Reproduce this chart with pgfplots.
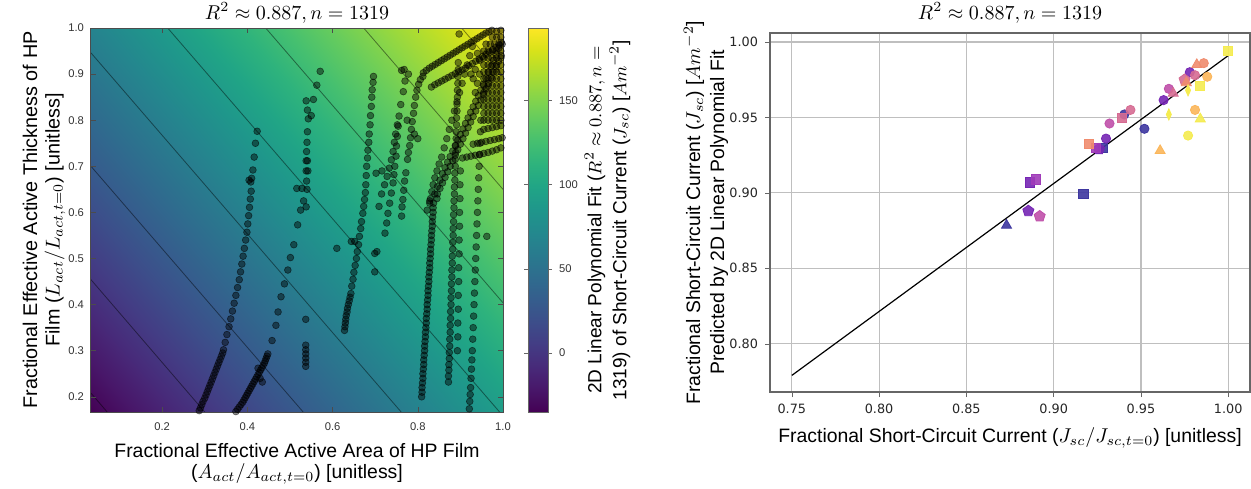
\documentclass[border=0pt]{standalone}
\usepackage{pgfplots}
\pgfplotsset{compat=1.18}
\usepackage{fontspec}
\setmainfont{Liberation Sans}
\newfontfamily\dejavu{DejaVu Sans}
\definecolor{cblue}{RGB}{62,55,160}
\definecolor{cpurple}{RGB}{118,38,180}
\definecolor{cviolet}{RGB}{160,60,185}
\definecolor{cmag}{RGB}{192,80,170}
\definecolor{cpink}{RGB}{214,108,147}
\definecolor{csalmon}{RGB}{240,140,110}
\definecolor{corange}{RGB}{251,182,90}
\definecolor{cyellow}{RGB}{245,236,80}
\pgfplotsset{
  dots/.style={only marks, mark=*, mark size=1.7pt, mark options={draw=black, fill=black, fill opacity=0.45, draw opacity=0.55, line width=0.3pt}},
  sc/.style 2 args={only marks, mark=#1, mark size=2.3pt, mark options={fill=#2, draw=#2, fill opacity=0.9}},
  st/.style 2 args={only marks, mark=#1, mark size=2.9pt, mark options={fill=#2, draw=#2, fill opacity=0.9}},
}
\begin{document}
\begin{tikzpicture}[x=1pt,y=1pt]
\useasboundingbox (0,0) rectangle (625.5,244);
% ---------------- LEFT PANEL ----------------
\begin{axis}[
  at={(45.5pt,38pt)}, anchor=south west, scale only axis,
  width=206pt, height=192pt,
  xmin=0.033, xmax=1.0, ymin=0.167, ymax=1.0,
  axis on top, tick align=inside, major tick length=2.5pt,
  xtick={0.2,0.4,0.6,0.8,1.0}, ytick={0.2,0.3,0.4,0.5,0.6,0.7,0.8,0.9,1.0},
  axis line style={black!70, line width=0.5pt}, tick style={black!70},
  xticklabel style={font=\fontsize{5.6}{6}\selectfont, text=black!80, yshift=-2pt},
  yticklabel style={font=\fontsize{5.6}{6}\selectfont, text=black!80},
  /pgf/number format/.cd, fixed, fixed zerofill, precision=1, assume math mode=true,
  /pgfplots/.cd,
  colormap name=viridis, point meta min=-35, point meta max=193,
  colorbar,
  colorbar style={at={(1.0607,1)}, anchor=north west, xshift=0pt,
    width=10pt, height=192pt, scale only axis,
    ytick={0,50,100,150}, tick align=outside, major tick length=2pt,
    axis line style={black!60}, tick style={black!60},
    yticklabel style={font=\fontsize{5.6}{6}\selectfont, text=black!80, /pgf/number format/assume math mode=true, /pgf/number format/precision=0}},
]
\addplot[surf, shader=interp, mesh/rows=2, point meta=explicit] table[meta=f] {
x y f
0.033 0.167 -35
1.0 0.167 91.3
0.033 1.0 66.7
1.0 1.0 193
};
% contour lines
\addplot[black, opacity=0.45, line width=0.4pt] coordinates {(0.033,0.208) (0.071,0.167)};
\addplot[black, opacity=0.45, line width=0.4pt] coordinates {(0.033,0.454) (0.300,0.167)};
\addplot[black, opacity=0.45, line width=0.4pt] coordinates {(0.033,0.700) (0.531,0.167)};
\addplot[black, opacity=0.45, line width=0.4pt] coordinates {(0.033,0.946) (0.761,0.167)};
\addplot[black, opacity=0.45, line width=0.4pt] coordinates {(0.213,1.0) (0.992,0.167)};
\addplot[black, opacity=0.45, line width=0.4pt] coordinates {(0.443,1.0) (1.0,0.404)};
\addplot[black, opacity=0.45, line width=0.4pt] coordinates {(0.673,1.0) (1.0,0.650)};
\addplot[black, opacity=0.45, line width=0.4pt] coordinates {(0.903,1.0) (1.0,0.896)};
% trace A
\addplot[dots] coordinates {
(0.287,0.170) (0.290,0.176) (0.293,0.183) (0.296,0.190) (0.300,0.197) (0.303,0.204) (0.306,0.211) (0.309,0.218) (0.312,0.225) (0.315,0.232) (0.318,0.239) (0.321,0.246) (0.324,0.253) (0.327,0.260) (0.330,0.267) (0.333,0.274) (0.336,0.281) (0.339,0.288) (0.342,0.295) (0.344,0.302)
(0.348,0.318) (0.352,0.335) (0.357,0.352) (0.361,0.369) (0.365,0.386) (0.369,0.403) (0.373,0.420) (0.377,0.437) (0.381,0.454) (0.384,0.471) (0.387,0.488) (0.390,0.505) (0.393,0.522) (0.396,0.540) (0.399,0.557) (0.401,0.575) (0.403,0.593) (0.405,0.611) (0.407,0.629) (0.409,0.646) (0.404,0.670) (0.408,0.666) (0.410,0.674) (0.413,0.692) (0.416,0.720) (0.419,0.750) (0.423,0.776)
(0.030,0.935)
};
% trace B
\addplot[dots] coordinates {
(0.373,0.168) (0.377,0.173) (0.381,0.178) (0.385,0.183) (0.389,0.188) (0.392,0.193) (0.395,0.198) (0.398,0.203) (0.401,0.208) (0.404,0.213) (0.407,0.218) (0.410,0.223) (0.413,0.228) (0.416,0.233) (0.419,0.238) (0.422,0.243) (0.425,0.248) (0.428,0.253) (0.431,0.258) (0.434,0.263) (0.437,0.268) (0.440,0.273) (0.442,0.278) (0.444,0.283) (0.446,0.288) (0.448,0.293) (0.430,0.240) (0.435,0.232) (0.425,0.262)
(0.458,0.322) (0.467,0.355) (0.472,0.384) (0.479,0.417) (0.487,0.445) (0.495,0.475) (0.501,0.502) (0.509,0.530) (0.518,0.573) (0.525,0.605) (0.532,0.625)
};
% column C
\addplot[dots] coordinates {
(0.538,0.842) (0.541,0.822) (0.543,0.803) (0.541,0.775) (0.540,0.752) (0.539,0.732) (0.538,0.712) (0.541,0.712) (0.538,0.690) (0.542,0.690) (0.539,0.668) (0.540,0.650) (0.528,0.652) (0.516,0.652) (0.538,0.612) (0.555,0.845) (0.563,0.876) (0.571,0.906) (0.550,0.810)
(0.537,0.312) (0.537,0.302) (0.537,0.293) (0.537,0.284) (0.537,0.275) (0.537,0.266) (0.537,0.368)
};
% trace D
\addplot[dots] coordinates {
(0.628,0.344) (0.629,0.352) (0.630,0.360) (0.631,0.368) (0.632,0.376) (0.634,0.384) (0.635,0.392) (0.637,0.400) (0.639,0.408) (0.641,0.416) (0.643,0.424)
(0.645,0.440) (0.648,0.455) (0.650,0.470) (0.653,0.485) (0.656,0.500) (0.658,0.515) (0.661,0.530) (0.663,0.548) (0.666,0.565) (0.668,0.580) (0.671,0.598) (0.673,0.613) (0.675,0.628) (0.677,0.643) (0.678,0.660) (0.679,0.680) (0.680,0.700) (0.682,0.718) (0.683,0.735) (0.685,0.752) (0.686,0.770) (0.688,0.790) (0.689,0.810) (0.691,0.830) (0.692,0.850) (0.693,0.866) (0.695,0.882) (0.696,0.895)
(0.644,0.537) (0.652,0.537) (0.610,0.522) (0.699,0.471) (0.699,0.511) (0.704,0.515) (0.702,0.685) (0.716,0.690)
};
% traces E
\addplot[dots] coordinates {
(0.723,0.555) (0.727,0.577) (0.730,0.598) (0.734,0.620) (0.738,0.642) (0.742,0.664) (0.744,0.682) (0.746,0.700) (0.749,0.722) (0.750,0.744) (0.752,0.765) (0.754,0.787) (0.756,0.809) (0.760,0.834) (0.766,0.862) (0.770,0.885) (0.778,0.900)
(0.709,0.613) (0.715,0.640) (0.722,0.660) (0.728,0.678) (0.733,0.696) (0.738,0.714) (0.742,0.732) (0.745,0.752) (0.748,0.770) (0.752,0.790)
(0.762,0.592) (0.763,0.612) (0.765,0.628) (0.767,0.648) (0.769,0.668) (0.772,0.686)
(0.776,0.715) (0.778,0.730) (0.781,0.745) (0.783,0.762) (0.785,0.780) (0.787,0.797) (0.790,0.815) (0.792,0.832) (0.795,0.850) (0.798,0.865) (0.802,0.878) (0.806,0.888) (0.812,0.895) (0.768,0.910) (0.762,0.908) (0.792,0.770) (0.775,0.800) (0.800,0.760)
};
% trace F
\addplot[dots] coordinates {
(0.809,0.20) (0.810,0.21) (0.810,0.22) (0.811,0.23) (0.812,0.24) (0.812,0.25) (0.813,0.26) (0.814,0.27) (0.814,0.28) (0.815,0.29) (0.816,0.30) (0.816,0.31) (0.817,0.32) (0.818,0.33) (0.818,0.34) (0.819,0.35) (0.820,0.36) (0.820,0.37) (0.821,0.38) (0.822,0.39) (0.822,0.40) (0.823,0.41) (0.824,0.42) (0.824,0.43) (0.825,0.44) (0.826,0.45) (0.826,0.46) (0.827,0.47) (0.828,0.48) (0.828,0.49) (0.829,0.50) (0.830,0.51) (0.830,0.52) (0.831,0.53) (0.832,0.54) (0.832,0.55) (0.833,0.56) (0.834,0.57) (0.834,0.58) (0.835,0.59) (0.836,0.60) (0.836,0.61) (0.837,0.62)
(0.822,0.605) (0.828,0.625) (0.845,0.630)
(0.828,0.620) (0.830,0.630) (0.833,0.645) (0.836,0.660) (0.840,0.675) (0.845,0.690) (0.850,0.705) (0.856,0.720) (0.862,0.740) (0.868,0.760) (0.874,0.780) (0.880,0.800) (0.886,0.820) (0.892,0.840) (0.898,0.860) (0.904,0.880) (0.910,0.900) (0.916,0.920) (0.922,0.940) (0.928,0.960)
(0.840,0.640) (0.846,0.656) (0.852,0.670) (0.858,0.684) (0.864,0.697) (0.870,0.709) (0.876,0.721) (0.882,0.733) (0.888,0.745) (0.894,0.757) (0.900,0.769) (0.906,0.781) (0.912,0.793) (0.918,0.805) (0.924,0.817) (0.930,0.829) (0.936,0.841) (0.942,0.853) (0.948,0.865) (0.954,0.878) (0.960,0.891) (0.966,0.904) (0.972,0.917) (0.978,0.930) (0.984,0.943) (0.990,0.956) (0.996,0.969)
(0.846,0.640) (0.852,0.652) (0.858,0.664) (0.864,0.676) (0.870,0.688) (0.876,0.700) (0.882,0.712) (0.888,0.724) (0.894,0.736) (0.900,0.748) (0.906,0.760) (0.912,0.772) (0.918,0.784) (0.924,0.796) (0.930,0.808) (0.936,0.820) (0.942,0.832) (0.948,0.844) (0.954,0.856) (0.960,0.868) (0.966,0.880) (0.972,0.892) (0.978,0.904) (0.984,0.916) (0.990,0.928) (0.996,0.940)
};
% traces G and H
\addplot[dots] coordinates {
(0.872,0.232) (0.872,0.245) (0.873,0.258) (0.873,0.270) (0.874,0.283) (0.874,0.296) (0.875,0.310) (0.875,0.325) (0.876,0.340) (0.876,0.355) (0.877,0.370) (0.877,0.385) (0.878,0.400) (0.878,0.415) (0.879,0.430) (0.879,0.445) (0.880,0.460) (0.880,0.475) (0.881,0.490) (0.881,0.505) (0.882,0.520) (0.882,0.535) (0.883,0.550) (0.883,0.565) (0.884,0.580) (0.884,0.595) (0.885,0.610) (0.885,0.625) (0.886,0.640) (0.886,0.655) (0.887,0.670) (0.887,0.685) (0.888,0.700)
(0.888,0.715) (0.889,0.730) (0.889,0.745) (0.890,0.760) (0.890,0.775) (0.891,0.790) (0.891,0.805) (0.892,0.820) (0.892,0.835) (0.893,0.850) (0.893,0.865) (0.894,0.880) (0.894,0.895) (0.895,0.910) (0.895,0.925)
(0.893,0.300) (0.894,0.330) (0.894,0.360) (0.895,0.390) (0.895,0.420) (0.896,0.450) (0.896,0.480) (0.897,0.510) (0.897,0.540) (0.898,0.570) (0.898,0.600) (0.899,0.630) (0.899,0.660) (0.900,0.690)
(0.921,0.174) (0.922,0.190) (0.923,0.205) (0.924,0.220) (0.925,0.240) (0.926,0.260) (0.927,0.280) (0.928,0.300) (0.929,0.325) (0.930,0.350) (0.931,0.375) (0.932,0.400) (0.933,0.425) (0.934,0.450) (0.935,0.475) (0.936,0.500) (0.937,0.525) (0.938,0.550) (0.939,0.575) (0.940,0.600) (0.941,0.625) (0.942,0.650) (0.943,0.675) (0.944,0.700) (0.945,0.725) (0.946,0.750) (0.947,0.775) (0.948,0.800)
(0.962,0.548) (0.897,0.987)
};
% top-right cluster
\addplot[dots] coordinates {
(0.813,0.903) (0.820,0.908) (0.827,0.913) (0.834,0.917) (0.841,0.921) (0.848,0.925) (0.855,0.929) (0.862,0.933) (0.869,0.937) (0.876,0.941) (0.883,0.945) (0.890,0.949) (0.897,0.953) (0.904,0.957) (0.911,0.961) (0.918,0.965) (0.925,0.969) (0.932,0.973) (0.939,0.977) (0.946,0.981) (0.953,0.985) (0.960,0.989) (0.967,0.992) (0.974,0.995)
(0.832,0.872) (0.840,0.877) (0.848,0.881) (0.856,0.885) (0.864,0.889) (0.872,0.893) (0.880,0.897) (0.888,0.901) (0.896,0.905) (0.904,0.909) (0.912,0.913) (0.920,0.918) (0.928,0.923) (0.936,0.928) (0.944,0.933) (0.952,0.938) (0.960,0.943) (0.968,0.948) (0.976,0.953) (0.984,0.958) (0.992,0.963)
(0.905,0.718) (0.915,0.720) (0.925,0.722) (0.935,0.724) (0.945,0.726) (0.955,0.728) (0.965,0.730) (0.975,0.733) (0.985,0.736) (0.995,0.740)
(0.930,0.748) (0.940,0.750) (0.950,0.752) (0.960,0.754) (0.970,0.756) (0.980,0.758) (0.990,0.760) (0.998,0.762)
(0.955,0.780) (0.965,0.782) (0.975,0.784) (0.985,0.786) (0.995,0.788)
(0.955,0.800) (0.965,0.800) (0.975,0.800) (0.985,0.800) (0.995,0.800)
(0.955,0.815) (0.965,0.815) (0.975,0.815) (0.985,0.815) (0.995,0.815)
(0.955,0.830) (0.965,0.830) (0.975,0.830) (0.985,0.830) (0.995,0.830)
(0.955,0.845) (0.965,0.845) (0.975,0.845) (0.985,0.845) (0.995,0.845)
(0.955,0.860) (0.965,0.860) (0.975,0.860) (0.985,0.860) (0.995,0.860)
(0.955,0.875) (0.965,0.875) (0.975,0.875) (0.985,0.875) (0.995,0.875)
(0.955,0.890) (0.965,0.890) (0.975,0.890) (0.985,0.890) (0.995,0.890)
(0.955,0.905) (0.965,0.905) (0.975,0.905) (0.985,0.905) (0.995,0.905)
(0.955,0.920) (0.965,0.920) (0.975,0.920) (0.985,0.920) (0.995,0.920)
(0.955,0.935) (0.965,0.935) (0.975,0.935) (0.985,0.935) (0.995,0.935)
(0.955,0.950) (0.965,0.950) (0.975,0.950) (0.985,0.950) (0.995,0.950)
(0.960,0.965) (0.970,0.965) (0.980,0.965) (0.990,0.965) (0.998,0.965)
(0.975,0.980) (0.985,0.980) (0.995,0.980) (0.985,0.993) (0.995,0.995)
(0.935,0.860) (0.940,0.880) (0.945,0.900) (0.935,0.910) (0.945,0.930) (0.930,0.890) (0.940,0.945) (0.925,0.900)
};
\end{axis}
% left labels
\node[font=\fontsize{10}{12}\selectfont] at (148.5,237.5) {$R^2 \approx 0.887, n = 1319$};
\node[font=\fontsize{9.7}{11}\selectfont] at (148.5,18.5) {Fractional Effective Active Area of HP Film};
\node[font=\fontsize{9.7}{11}\selectfont] at (148.5,7) {($A_{act}/A_{act,t=0}$) [unitless]};
\node[font=\fontsize{9.9}{11}\selectfont, rotate=90] at (15,134) {Fractional Effective Active Thickness of HP};
\node[font=\fontsize{9.9}{11}\selectfont, rotate=90] at (27.5,134) {Film ($L_{act}/L_{act,t=0}$) [unitless]};
\node[font=\fontsize{9.5}{11}\selectfont, rotate=90] at (297.5,134) {2D Linear Polynomial Fit ($R^2 \approx 0.887, n =$};
\node[font=\fontsize{9.5}{11}\selectfont, rotate=90] at (310,134) {1319) of Short-Circuit Current ($J_{sc}$) [$Am^{-2}$]};
% ---------------- RIGHT PANEL ----------------
\fill[white] (316,0) rectangle (625.5,244);
\begin{axis}[
  at={(385pt,48pt)}, anchor=south west, scale only axis,
  width=240pt, height=179.5pt,
  xmin=0.7375, xmax=1.0125, ymin=0.768, ymax=1.006,
  xtick={0.75,0.8,0.85,0.9,0.95,1.0}, ytick={0.8,0.85,0.9,0.95,1.0},
  grid=major, grid style={black!25, line width=0.6pt},
  tick align=outside, tick pos=left, major tick length=2.5pt,
  axis line style={black!60, line width=0.6pt}, tick style={black!60},
  xticklabel style={font=\dejavu\fontsize{6.4}{7}\selectfont, text=black!85},
  yticklabel style={font=\dejavu\fontsize{6.4}{7}\selectfont, text=black!85},
  /pgf/number format/.cd, fixed, fixed zerofill, precision=2, assume math mode=true,
  /pgfplots/.cd,
]
\addplot[black, line width=0.6pt] coordinates {(0.75,0.779) (1.0,0.991)};
\addplot[sc={square*}{cblue}] coordinates {(0.928,0.930) (0.917,0.8995)};
\addplot[st={triangle*}{cblue}] coordinates {(0.873,0.8785)};
\addplot[sc={*}{cblue}] coordinates {(0.952,0.9425) (0.9405,0.952)};
\addplot[sc={square*}{cpurple}] coordinates {(0.8865,0.907)};
\addplot[st={pentagon*}{cpurple}] coordinates {(0.8855,0.888) (0.926,0.929)};
\addplot[sc={*}{cpurple}] coordinates {(0.978,0.980) (0.963,0.9615) (0.930,0.936)};
\addplot[sc={square*}{cviolet}] coordinates {(0.890,0.909) (0.924,0.930)};
\addplot[st={pentagon*}{cmag}] coordinates {(0.892,0.8845)};
\addplot[sc={*}{cmag}] coordinates {(0.966,0.969) (0.932,0.946)};
\addplot[sc={square*}{cpink}] coordinates {(0.939,0.9495)};
\addplot[sc={*}{cpink}] coordinates {(0.944,0.955) (0.981,0.978)};
\addplot[st={triangle*}{cpink}] coordinates {(0.9685,0.966)};
\addplot[st={pentagon*}{cpink}] coordinates {(0.975,0.975)};
\addplot[sc={square*}{csalmon}] coordinates {(0.920,0.9325)};
\addplot[st={triangle*}{csalmon}] coordinates {(0.982,0.985) (0.976,0.973)};
\addplot[sc={*}{csalmon}] coordinates {(0.986,0.986)};
\addplot[sc={*}{corange}] coordinates {(0.988,0.977) (0.981,0.955)};
\addplot[st={triangle*}{corange}] coordinates {(0.961,0.928)};
\addplot[sc={square*}{cyellow}] coordinates {(1.0,0.994) (0.984,0.971)};
\addplot[st={triangle*}{cyellow}] coordinates {(0.984,0.949)};
\addplot[sc={*}{cyellow}] coordinates {(0.977,0.938)};
\addplot[only marks, mark=diamond*, mark size=2.8pt, mark options={fill=cyellow, draw=cyellow, xscale=0.6}] coordinates {(0.966,0.952) (0.977,0.968)};
\end{axis}
\node[font=\fontsize{10}{12}\selectfont] at (505,237.5) {$R^2 \approx 0.887, n = 1319$};
\node[font=\fontsize{9.7}{11}\selectfont, rotate=90] at (347,137.75) {Fractional Short-Circuit Current ($J_{sc}$) [$Am^{-2}$]};
\node[font=\fontsize{9.7}{11}\selectfont, rotate=90] at (359.5,137.75) {Predicted by 2D Linear Polynomial Fit};
\node[font=\fontsize{9.7}{11}\selectfont] at (505,25) {Fractional Short-Circuit Current ($J_{sc}/J_{sc,t=0}$) [unitless]};
\end{tikzpicture}
\end{document}
